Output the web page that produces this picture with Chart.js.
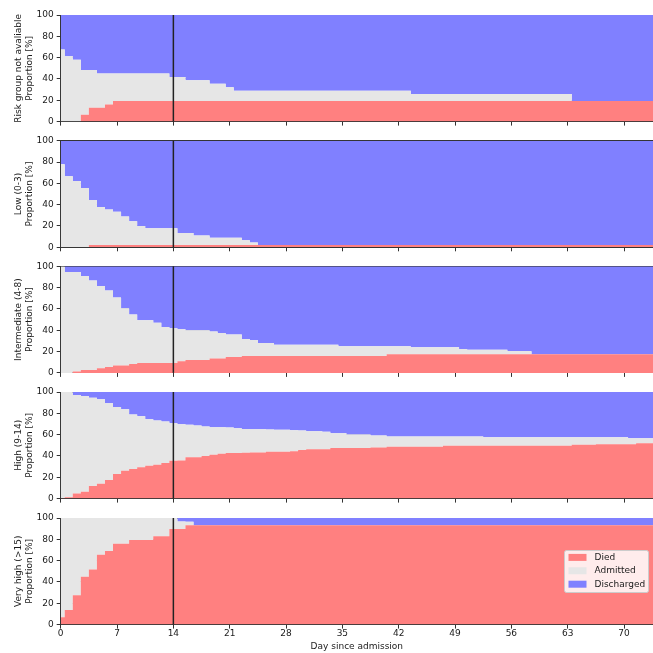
<!DOCTYPE html>
<html>
<head>
<meta charset="utf-8">
<script src="https://cdn.jsdelivr.net/npm/chart.js@4.4.1/dist/chart.umd.min.js"></script>
<style>
  html, body { margin: 0; padding: 0; background: #fff; }
  #wrap { position: relative; width: 653px; height: 653px; overflow: hidden; }
  #wrap canvas { position: absolute; left: 0; top: 0; }
</style>
</head>
<body>
<div id="wrap"></div>
<script>
// ---- data (proportion in % per day since admission, days 0..74) ----
const days = Array.from({ length: 75 }, (_, i) => i);

const groups = ["Risk group not avaliable", "Low (0-3)", "Intermediate (4-8)", "High (9-14)", "Very high (>15)"];
const statusLabels = ["Died", "Admitted", "Discharged"];
const dayTicks = [0, 7, 14, 21, 28, 35, 42, 49, 56, 63, 70];
const percentTicks = [0, 20, 40, 60, 80, 100];
const markerDay = 14;

// Risk group not avaliable
const naDied = [
  0, 0, 0, 6.5, 12.9, 12.9, 16.1, 19.4, 19.4, 19.4, 19.4, 19.4, 19.4, 19.4, 19.4,
  19.4, 19.4, 19.4, 19.4, 19.4, 19.4, 19.4, 19.4, 19.4, 19.4, 19.4, 19.4, 19.4, 19.4, 19.4,
  19.4, 19.4, 19.4, 19.4, 19.4, 19.4, 19.4, 19.4, 19.4, 19.4, 19.4, 19.4, 19.4, 19.4, 19.4,
  19.4, 19.4, 19.4, 19.4, 19.4, 19.4, 19.4, 19.4, 19.4, 19.4, 19.4, 19.4, 19.4, 19.4, 19.4,
  19.4, 19.4, 19.4, 19.4, 19.4, 19.4, 19.4, 19.4, 19.4, 19.4, 19.4, 19.4, 19.4, 19.4, 19.4
];
const naAdmitted = [
  67.7, 61.3, 58.1, 41.9, 35.5, 32.3, 29.1, 25.8, 25.8, 25.8, 25.8, 25.8, 25.8, 25.8, 22.5,
  22.5, 19.3, 19.3, 19.3, 16.1, 16.1, 12.9, 9.6, 9.6, 9.6, 9.6, 9.6, 9.6, 9.6, 9.6,
  9.6, 9.6, 9.6, 9.6, 9.6, 9.6, 9.6, 9.6, 9.6, 9.6, 9.6, 9.6, 9.6, 9.6, 6.4,
  6.4, 6.4, 6.4, 6.4, 6.4, 6.4, 6.4, 6.4, 6.4, 6.4, 6.4, 6.4, 6.4, 6.4, 6.4,
  6.4, 6.4, 6.4, 6.4, 0, 0, 0, 0, 0, 0, 0, 0, 0, 0, 0
];

// Low (0-3)
const lowDied = [
  0, 0, 0, 0, 2.2, 2.2, 2.2, 2.2, 2.2, 2.2, 2.2, 2.2, 2.2, 2.2, 2.2,
  2.2, 2.2, 2.2, 2.2, 2.2, 2.2, 2.2, 2.2, 2.2, 2.2, 2.2, 2.2, 2.2, 2.2, 2.2,
  2.2, 2.2, 2.2, 2.2, 2.2, 2.2, 2.2, 2.2, 2.2, 2.2, 2.2, 2.2, 2.2, 2.2, 2.2,
  2.2, 2.2, 2.2, 2.2, 2.2, 2.2, 2.2, 2.2, 2.2, 2.2, 2.2, 2.2, 2.2, 2.2, 2.2,
  2.2, 2.2, 2.2, 2.2, 2.2, 2.2, 2.2, 2.2, 2.2, 2.2, 2.2, 2.2, 2.2, 2.2, 2.2
];
const lowAdmitted = [
  77.8, 66.7, 62.2, 55.6, 42.2, 35.6, 33.3, 31.1, 26.7, 22.2, 17.8, 15.6, 15.6, 15.6, 15.6,
  11.1, 11.1, 8.9, 8.9, 6.7, 6.7, 6.7, 6.7, 4.4, 2.2, 0, 0, 0, 0, 0,
  0, 0, 0, 0, 0, 0, 0, 0, 0, 0, 0, 0, 0, 0, 0,
  0, 0, 0, 0, 0, 0, 0, 0, 0, 0, 0, 0, 0, 0, 0,
  0, 0, 0, 0, 0, 0, 0, 0, 0, 0, 0, 0, 0, 0, 0
];

// Intermediate (4-8)
const midDied = [
  0, 0, 1.2, 2.8, 2.8, 4.4, 5.6, 6.9, 6.9, 8.4, 9.3, 9.3, 9.3, 9.3, 9.3,
  10.9, 12.1, 12.1, 12.1, 13.4, 13.4, 15.0, 15.0, 15.9, 15.9, 15.9, 15.9, 15.9, 15.9, 15.9,
  15.9, 15.9, 15.9, 15.9, 15.9, 15.9, 15.9, 15.9, 15.9, 15.9, 15.9, 17.4, 17.4, 17.4, 17.4,
  17.4, 17.4, 17.4, 17.4, 17.4, 17.4, 17.4, 17.4, 17.4, 17.4, 17.4, 17.4, 17.4, 17.4, 17.4,
  17.4, 17.4, 17.4, 17.4, 17.4, 17.4, 17.4, 17.4, 17.4, 17.4, 17.4, 17.4, 17.4, 17.4, 17.4
];
const midAdmitted = [
  100, 94.7, 93.5, 88.2, 83.8, 77.2, 71.7, 63.8, 53.8, 46.4, 40.2, 40.2, 37.7, 33.7, 32.7,
  30.1, 27.9, 27.9, 27.9, 25.5, 24.0, 21.0, 21.0, 15.9, 14.9, 12.1, 12.1, 10.6, 10.6, 10.6,
  10.6, 10.6, 10.6, 10.6, 10.6, 9.0, 9.0, 9.0, 9.0, 9.0, 9.0, 7.5, 7.5, 7.5, 6.6,
  6.6, 6.6, 6.6, 6.6, 6.6, 5.0, 4.4, 4.4, 4.4, 4.4, 4.4, 3.2, 3.2, 3.2, 0,
  0, 0, 0, 0, 0, 0, 0, 0, 0, 0, 0, 0, 0, 0, 0
];

// High (9-14)
const highDied = [
  0.5, 1.2, 4.7, 6.5, 11.8, 14.0, 17.4, 23.0, 26.2, 27.7, 29.3, 30.8, 31.8, 33.3, 35.5,
  35.8, 38.9, 38.9, 39.9, 41.1, 42.1, 42.7, 42.7, 43.0, 43.3, 43.3, 43.9, 43.9, 43.9, 44.5,
  45.5, 46.4, 46.4, 46.4, 47.4, 47.4, 47.4, 47.4, 47.4, 48.0, 48.0, 48.6, 48.6, 48.6, 48.6,
  48.6, 48.6, 48.6, 49.5, 49.5, 49.5, 49.5, 49.5, 49.5, 49.5, 49.5, 49.5, 49.5, 49.5, 49.5,
  49.5, 49.5, 49.5, 49.5, 50.5, 50.5, 50.5, 51.1, 51.1, 51.1, 51.1, 51.1, 52.0, 52.0, 52.0
];
const highAdmitted = [
  99.5, 98.8, 92.5, 89.8, 82.9, 79.1, 72.0, 63.0, 57.6, 51.1, 48.0, 43.7, 41.4, 39.0, 35.2,
  34.0, 30.3, 29.6, 27.7, 25.9, 24.9, 24.0, 23.3, 22.4, 21.8, 21.8, 20.9, 20.6, 20.6, 19.7,
  18.4, 16.8, 16.8, 16.2, 14.0, 14.0, 12.7, 12.7, 12.7, 11.2, 11.2, 9.7, 9.7, 9.7, 9.7,
  9.7, 9.7, 9.7, 8.8, 8.8, 8.8, 8.8, 8.8, 8.1, 8.1, 8.1, 8.1, 8.1, 8.1, 8.1,
  8.1, 8.1, 8.1, 8.1, 7.1, 7.1, 7.1, 6.5, 6.5, 6.5, 6.5, 5.6, 4.7, 4.7, 4.7
];

// Very high (>15)
const vhighDied = [
  6.9, 13.8, 27.6, 44.8, 51.7, 65.5, 69.0, 75.9, 75.9, 79.3, 79.3, 79.3, 82.8, 82.8, 89.7,
  89.7, 93.1, 93.1, 93.1, 93.1, 93.1, 93.1, 93.1, 93.1, 93.1, 93.1, 93.1, 93.1, 93.1, 93.1,
  93.1, 93.1, 93.1, 93.1, 93.1, 93.1, 93.1, 93.1, 93.1, 93.1, 93.1, 93.1, 93.1, 93.1, 93.1,
  93.1, 93.1, 93.1, 93.1, 93.1, 93.1, 93.1, 93.1, 93.1, 93.1, 93.1, 93.1, 93.1, 93.1, 93.1,
  93.1, 93.1, 93.1, 93.1, 93.1, 93.1, 93.1, 93.1, 93.1, 93.1, 93.1, 93.1, 93.1, 93.1, 93.1
];
const vhighAdmitted = [
  93.1, 86.2, 72.4, 55.2, 48.3, 34.5, 31.0, 24.1, 24.1, 20.7, 20.7, 20.7, 17.2, 17.2, 10.3,
  6.9, 3.4, 0, 0, 0, 0, 0, 0, 0, 0, 0, 0, 0, 0, 0,
  0, 0, 0, 0, 0, 0, 0, 0, 0, 0, 0, 0, 0, 0, 0,
  0, 0, 0, 0, 0, 0, 0, 0, 0, 0, 0, 0, 0, 0, 0,
  0, 0, 0, 0, 0, 0, 0, 0, 0, 0, 0, 0, 0, 0, 0
];

const diedSeries = [naDied, lowDied, midDied, highDied, vhighDied];
const admittedSeries = [naAdmitted, lowAdmitted, midAdmitted, highAdmitted, vhighAdmitted];

// ---- look ----
const colors = ["#ff8080", "#e6e6e6", "#8080ff"];
const panelTops = [15, 140.7, 266.3, 392, 518];
const panelHeight = 106.6;
const axisLeft = 60.7;
const ink = "#1a1a1a";

Chart.defaults.font.family = "'DejaVu Sans', sans-serif";
Chart.defaults.font.size = 9;
Chart.defaults.color = ink;

// vertical line at day 14
const markerLine = {
  id: "markerLine",
  afterDraw(chart) {
    const { ctx, chartArea: a, scales: { x } } = chart;
    const px = x.getPixelForValue(markerDay);
    ctx.save();
    ctx.strokeStyle = "#222";
    ctx.lineWidth = 1.5;
    ctx.beginPath();
    ctx.moveTo(px, a.top);
    ctx.lineTo(px, a.bottom);
    ctx.stroke();
    ctx.restore();
  }
};

// legend box inside the last panel (center right)
const legendBox = {
  id: "legendBox",
  afterDraw(chart) {
    const { ctx, chartArea: a } = chart;
    const sets = chart.data.datasets;
    const w = 84, h = 42, rowH = 13.4;
    const x0 = a.right - 5 - w;
    const y0 = (a.top + a.bottom) / 2 - h / 2;
    ctx.save();
    ctx.fillStyle = "rgba(255,255,255,0.85)";
    ctx.strokeStyle = "#cccccc";
    ctx.lineWidth = 1;
    ctx.beginPath();
    ctx.roundRect(Math.round(x0) + 0.5, Math.round(y0) + 0.5, w, h, 2);
    ctx.fill();
    ctx.stroke();
    ctx.font = "9px 'DejaVu Sans'";
    ctx.textBaseline = "middle";
    sets.forEach((ds, k) => {
      const cy = y0 + h / 2 - 0.5 + (k - 1) * rowH;
      ctx.fillStyle = ds.backgroundColor;
      ctx.fillRect(x0 + 4.5, cy - 3.5, 18, 7);
      ctx.fillStyle = ink;
      ctx.fillText(ds.label, x0 + 30.5, cy);
    });
    ctx.restore();
  }
};

const wrap = document.getElementById("wrap");

function makePanel(i) {
  const canvas = document.createElement("canvas");
  canvas.width = 653;
  canvas.height = 653;
  wrap.appendChild(canvas);

  const last = i === groups.length - 1;
  const top = panelTops[i];
  const bottom = top + panelHeight;
  const xAxisH = last ? 653 - bottom : 4;
  const died = diedSeries[i];
  const admitted = admittedSeries[i];
  const discharged = died.map((d, k) => +(100 - d - admitted[k]).toFixed(1));
  const pts = arr => arr.map((v, k) => ({ x: days[k], y: v }));
  const series = [died, admitted, discharged];

  new Chart(canvas, {
    type: "line",
    data: {
      datasets: series.map((arr, k) => ({
        label: statusLabels[k],
        data: pts(arr),
        backgroundColor: colors[k],
        borderWidth: 0,
        pointRadius: 0,
        stepped: "middle",
        fill: k === 0 ? "origin" : "-1"
      }))
    },
    options: {
      responsive: false,
      animation: false,
      devicePixelRatio: 1,
      layout: { padding: { top: top, bottom: last ? 0 : 653 - bottom - xAxisH, left: 0, right: 0 } },
      plugins: { legend: { display: false }, tooltip: { enabled: false } },
      scales: {
        x: {
          type: "linear",
          min: 0,
          max: 73.6,
          z: 1,
          afterBuildTicks: s => { s.ticks = dayTicks.map(v => ({ value: v })); },
          afterFit: s => { s.height = xAxisH; },
          grid: { drawOnChartArea: false, drawTicks: true, tickLength: 4, tickColor: "#333" },
          border: { color: "#333", width: 1 },
          ticks: { display: last, padding: 0, maxRotation: 0, autoSkip: false, color: ink },
          title: { display: last, text: "Day since admission", padding: { top: 0, bottom: 1 }, color: ink }
        },
        y: {
          stacked: true,
          min: 0,
          max: 100,
          z: 1,
          afterBuildTicks: s => { s.ticks = percentTicks.map(v => ({ value: v })); },
          afterFit: s => { s.width = axisLeft; },
          grid: {
            color: c => (c.tick && (c.tick.value === 100 || c.tick.value === 0)) ? "#333" : "rgba(170,170,170,0.65)",
            lineWidth: 1,
            tickLength: 4,
            tickColor: "#333"
          },
          border: { color: "#333", width: 1 },
          ticks: { padding: 3, color: ink },
          title: {
            display: true,
            text: [groups[i], "Proportion [%]"],
            padding: { top: 13, bottom: 0 },
            color: ink
          }
        }
      }
    },
    plugins: last ? [markerLine, legendBox] : [markerLine]
  });
}

groups.forEach((g, i) => makePanel(i));
</script>
</body>
</html>
